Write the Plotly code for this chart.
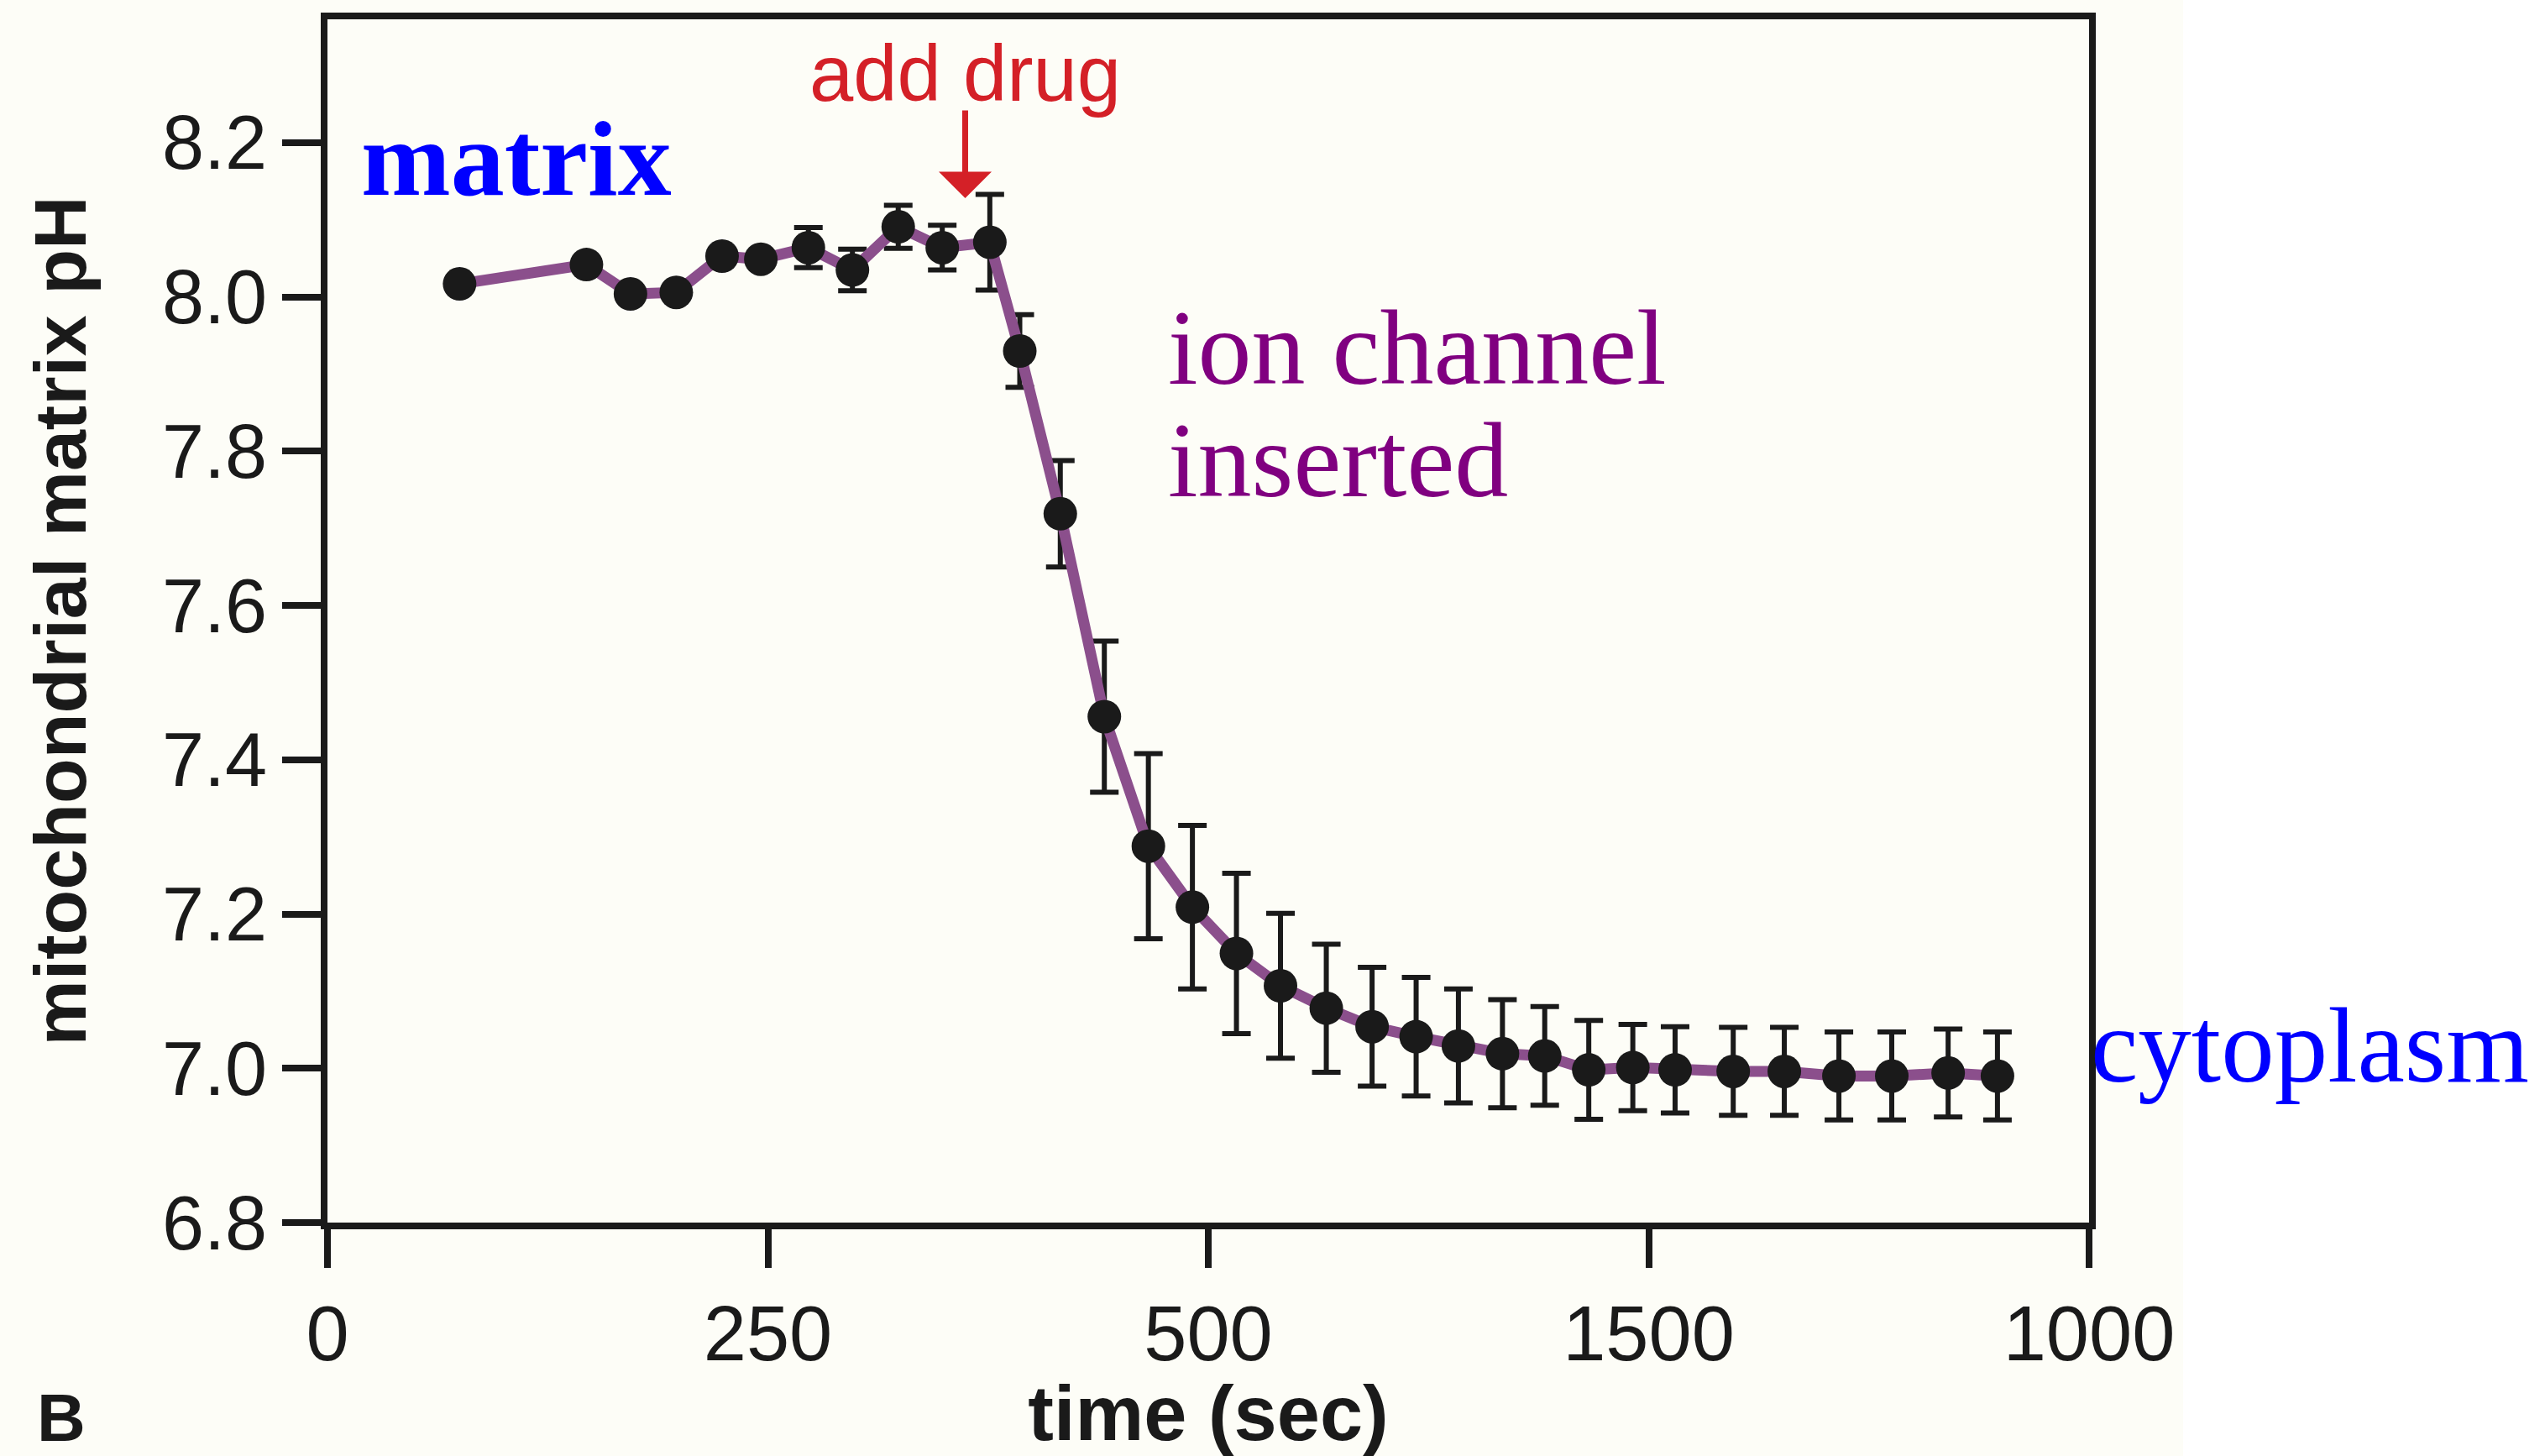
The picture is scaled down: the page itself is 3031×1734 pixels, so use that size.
import plotly.graph_objects as go

# ---- data ----
time_sec = [75, 147, 172, 198, 224, 246, 273, 298, 324, 349, 376, 393, 416, 441,
            466, 491, 516, 541, 567, 593, 618, 642, 667, 691, 716, 741, 765, 798,
            827, 858, 888, 920, 948]
ph_values = [8.017, 8.042, 8.004, 8.006, 8.053, 8.049, 8.064, 8.035, 8.091, 8.064,
             8.071, 7.930, 7.719, 7.456, 7.288, 7.209, 7.149, 7.107, 7.078, 7.054,
             7.041, 7.029, 7.019, 7.016, 6.998, 7.001, 6.998, 6.996, 6.996, 6.990,
             6.990, 6.994, 6.990]
ph_errors = [0.0, 0.0, 0.0, 0.0, 0.0, 0.0, 0.026, 0.027, 0.028, 0.029, 0.062, 0.047,
             0.069, 0.098, 0.120, 0.106, 0.104, 0.094, 0.083, 0.077, 0.077, 0.074,
             0.070, 0.064, 0.064, 0.056, 0.056, 0.057, 0.057, 0.057, 0.057, 0.057,
             0.057]

x_tickvals = [0, 250, 500, 750, 1000]
x_ticktext = ["0", "250", "500", "1500", "1000"]
y_tickvals = [6.8, 7.0, 7.2, 7.4, 7.6, 7.8, 8.0, 8.2]
y_ticktext = ["6.8", "7.0", "7.2", "7.4", "7.6", "7.8", "8.0", "8.2"]

drug_time = 362
drug_ph = 8.128

W, H = 3031, 1734
ML, MR, MT, MB = 390, 543, 23, 278

INK = "#1a1a1a"
SANS = "Liberation Sans, Arial, Helvetica, sans-serif"
SERIF = "Liberation Serif, Times New Roman, serif"

fig = go.Figure()
fig.add_trace(go.Scatter(
    x=time_sec, y=ph_values,
    mode="lines+markers",
    line=dict(color="#8B4F8C", width=13),
    marker=dict(color=INK, size=40),
    error_y=dict(type="data", array=ph_errors, visible=True,
                 color=INK, thickness=6, width=17),
    showlegend=False,
    cliponaxis=False,
))

fig.update_layout(
    width=W, height=H,
    margin=dict(l=ML, r=MR, t=MT, b=MB, autoexpand=False),
    paper_bgcolor="#FDFDF7",
    plot_bgcolor="#FDFDF7",
    font=dict(family=SANS, color=INK, size=92),
    showlegend=False,
)

fig.update_xaxes(
    range=[0, 1000],
    tickvals=x_tickvals, ticktext=x_ticktext,
    ticks="outside", ticklen=46, tickwidth=8, tickcolor=INK,
    tickfont=dict(family=SANS, size=92, color=INK),
    showline=True, linewidth=8, linecolor=INK, mirror=True,
    showgrid=False, zeroline=False,
    title=dict(text="<b>time (sec)</b>", font=dict(family=SANS, size=92, color=INK),
               standoff=30),
)
fig.update_yaxes(
    range=[6.8, 8.36],
    tickvals=y_tickvals, ticktext=y_ticktext,
    ticks="outside", ticklen=46, tickwidth=8, tickcolor=INK,
    tickfont=dict(family=SANS, size=90, color=INK),
    showline=True, linewidth=8, linecolor=INK, mirror=True,
    showgrid=False, zeroline=False,
    title=dict(text="<b>mitochondrial matrix pH</b>",
               font=dict(family=SANS, size=88, color=INK), standoff=64),
)

# white strip to the right of the figure area (as in the reference)
fig.add_shape(type="rect", xref="paper", yref="paper", layer="below",
              x0=(2600 - ML) / (W - ML - MR), x1=(W - ML) / (W - ML - MR),
              y0=-MB / (H - MT - MB), y1=1 + MT / (H - MT - MB),
              fillcolor="#FFFFFF", line=dict(width=0))

# annotations
fig.add_annotation(x=18, y=8.179, xref="x", yref="y", text="<b>matrix</b>",
                   showarrow=False, xanchor="left", yanchor="middle",
                   font=dict(family=SERIF, size=128, color="#0000FF"))
fig.add_annotation(x=476, y=7.934, xref="x", yref="y", text="ion channel",
                   showarrow=False, xanchor="left", yanchor="middle",
                   font=dict(family=SERIF, size=128, color="#800080"))
fig.add_annotation(x=476, y=7.788, xref="x", yref="y", text="inserted",
                   showarrow=False, xanchor="left", yanchor="middle",
                   font=dict(family=SERIF, size=128, color="#800080"))
fig.add_annotation(x=1000, y=7.03, xref="x", yref="y", text="cytoplasm",
                   showarrow=False, xanchor="left", yanchor="middle",
                   font=dict(family=SERIF, size=127, color="#0000FF"))
fig.add_annotation(x=drug_time, y=8.29, xref="x", yref="y", text="add drug",
                   showarrow=False, xanchor="center", yanchor="middle",
                   font=dict(family=SANS, size=94, color="#D42027"))
fig.add_annotation(x=drug_time, y=drug_ph, xref="x", yref="y", text="",
                   showarrow=True, axref="pixel", ayref="pixel", ax=0, ay=-106,
                   arrowhead=1, arrowsize=1.5, arrowwidth=7, arrowcolor="#D42027")
fig.add_annotation(x=-0.151, y=-0.162, xref="paper", yref="paper", text="<b>B</b>",
                   showarrow=False, xanchor="center", yanchor="middle",
                   font=dict(family=SANS, size=80, color=INK))

fig.write_html("out.html")
